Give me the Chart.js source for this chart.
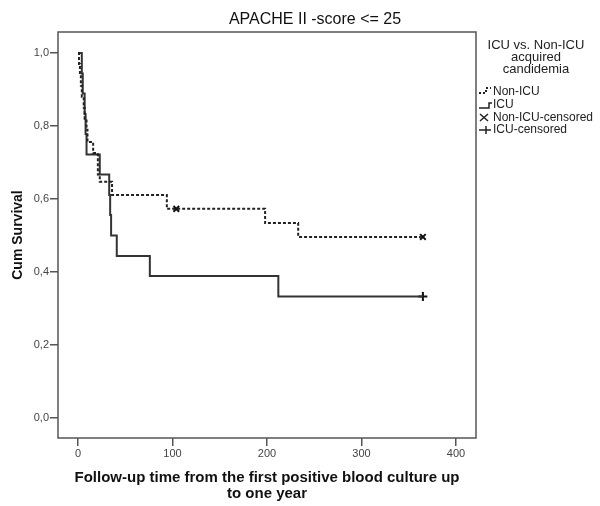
<!DOCTYPE html>
<html>
<head>
<meta charset="utf-8">
<script src="https://cdn.jsdelivr.net/npm/chart.js@4.4.1/dist/chart.umd.min.js"></script>
<style>
  body { margin: 0; background: #fff; }
  #wrap { width: 600px; height: 506px; }
</style>
</head>
<body>
<div id="wrap"><canvas id="kmChart" width="600" height="506"></canvas></div>
<script>
// Kaplan-Meier steps (days, cumulative survival)
const nonIcuTimes = [0, 1, 2, 3, 4, 6, 7, 9, 10, 16, 21, 23, 36, 94, 198, 233, 365];
const nonIcuSurv = [1.0, 0.97, 0.94, 0.91, 0.88, 0.85, 0.82, 0.79, 0.756, 0.726, 0.667, 0.647, 0.611, 0.573, 0.534, 0.496, 0.496];
const icuTimes = [0, 4, 5, 7, 8, 9, 23, 33, 34, 35, 41, 76, 212, 365];
const icuSurv = [1.0, 0.944, 0.889, 0.833, 0.778, 0.722, 0.667, 0.611, 0.556, 0.5, 0.444, 0.389, 0.333, 0.333];

// censored observations
const nonIcuCensorTimes = [104, 365];
const nonIcuCensorSurv = [0.573, 0.496];
const icuCensorTimes = [365];
const icuCensorSurv = [0.333];

const xTicks = [0, 100, 200, 300, 400];
const yTicks = [0, 0.2, 0.4, 0.6, 0.8, 1.0];

const legendTitle = ['ICU vs. Non-ICU', 'acquired', 'candidemia'];
const legendLabels = ['Non-ICU', 'ICU', 'Non-ICU-censored', 'ICU-censored'];

const FONT = '"Liberation Sans", Arial, sans-serif';

function toPoints(xs, ys) {
    return xs.map((x, i) => ({ x: x, y: ys[i] }));
}

// title, frame and the SPSS style legend on the right
const decorPlugin = {
    id: 'decor',
    afterDraw(chart) {
        const ctx = chart.ctx;
        const area = chart.chartArea;
        ctx.save();

        // frame around plot area
        ctx.strokeStyle = '#555';
        ctx.lineWidth = 1.5;
        ctx.strokeRect(area.left, area.top, area.right - area.left, area.bottom - area.top);

        // title
        ctx.fillStyle = '#111';
        ctx.font = '16px ' + FONT;
        ctx.textAlign = 'center';
        ctx.textBaseline = 'middle';
        ctx.fillText('APACHE II -score <= 25', 315, 20);

        // legend title
        ctx.font = '13px ' + FONT;
        ctx.fillStyle = '#222';
        legendTitle.forEach((t, i) => ctx.fillText(t, 536, 45 + i * 12));

        // legend symbols
        ctx.strokeStyle = '#222';
        ctx.lineWidth = 2;
        ctx.setLineDash([2, 2]);
        ctx.beginPath();
        ctx.moveTo(479, 93); ctx.lineTo(486, 93); ctx.lineTo(486, 88); ctx.lineTo(491, 88);
        ctx.stroke();
        ctx.setLineDash([]);
        ctx.lineWidth = 1.5;
        ctx.beginPath();
        ctx.moveTo(479, 108); ctx.lineTo(489, 108); ctx.lineTo(489, 103); ctx.lineTo(492, 103);
        ctx.stroke();
        ctx.beginPath();
        ctx.moveTo(480, 114); ctx.lineTo(488, 121);
        ctx.moveTo(480, 121); ctx.lineTo(488, 114);
        ctx.moveTo(479, 130); ctx.lineTo(491, 130);
        ctx.moveTo(486, 126); ctx.lineTo(486, 134);
        ctx.stroke();

        // legend labels
        ctx.font = '12px ' + FONT;
        ctx.textAlign = 'left';
        const ys = [92, 105, 118, 130];
        legendLabels.forEach((t, i) => ctx.fillText(t, 493, ys[i]));

        ctx.restore();
    }
};

const ctx = document.getElementById('kmChart').getContext('2d');
new Chart(ctx, {
    type: 'line',
    data: {
        datasets: [
            {
                label: 'Non-ICU',
                data: toPoints(nonIcuTimes, nonIcuSurv),
                stepped: true,
                borderColor: '#222',
                borderWidth: 2,
                borderDash: [3, 2],
                pointRadius: 0,
                fill: false
            },
            {
                label: 'ICU',
                data: toPoints(icuTimes, icuSurv),
                stepped: true,
                borderColor: '#333',
                borderWidth: 2,
                pointRadius: 0,
                fill: false
            },
            {
                label: 'Non-ICU-censored',
                data: toPoints(nonIcuCensorTimes, nonIcuCensorSurv),
                showLine: false,
                pointStyle: 'crossRot',
                pointRadius: 4,
                pointBorderWidth: 2,
                borderColor: '#111'
            },
            {
                label: 'ICU-censored',
                data: toPoints(icuCensorTimes, icuCensorSurv),
                showLine: false,
                pointStyle: 'cross',
                pointRadius: 4.5,
                pointBorderWidth: 2,
                borderColor: '#111'
            }
        ]
    },
    options: {
        responsive: false,
        animation: false,
        layout: { padding: { top: 32, right: 124, bottom: 0, left: 0 } },
        plugins: {
            legend: { display: false },
            tooltip: { enabled: false }
        },
        scales: {
            x: {
                type: 'linear',
                min: -21.2,
                max: 421.2,
                afterBuildTicks: (scale) => { scale.ticks = xTicks.map(v => ({ value: v })); },
                afterFit: (scale) => { scale.height = 68; },
                ticks: {
                    color: '#444',
                    font: { family: FONT, size: 11 },
                    padding: 1,
                    maxRotation: 0,
                    callback: (v) => String(v)
                },
                grid: { drawOnChartArea: false, tickLength: 8, color: '#555', lineWidth: 1.5 },
                border: { display: false },
                title: {
                    display: true,
                    text: ['Follow-up time from the first positive blood culture up', 'to one year'],
                    color: '#111',
                    font: { family: FONT, size: 15, weight: 'bold', lineHeight: '16px' },
                    padding: { top: 0, bottom: 4 }
                }
            },
            y: {
                type: 'linear',
                min: -0.0548,
                max: 1.0575,
                afterBuildTicks: (scale) => { scale.ticks = yTicks.map(v => ({ value: v })); },
                afterFit: (scale) => { scale.width = 58; },
                ticks: {
                    color: '#444',
                    font: { family: FONT, size: 11 },
                    padding: 1,
                    callback: (v) => v.toFixed(1).replace('.', ',')
                },
                grid: { drawOnChartArea: false, tickLength: 8, color: '#555', lineWidth: 1.5 },
                border: { display: false },
                title: {
                    display: true,
                    text: 'Cum Survival',
                    color: '#111',
                    font: { family: FONT, size: 14, weight: 'bold', lineHeight: '16px' },
                    padding: { top: 10, bottom: 0 }
                }
            }
        }
    },
    plugins: [decorPlugin]
});
</script>
</body>
</html>
